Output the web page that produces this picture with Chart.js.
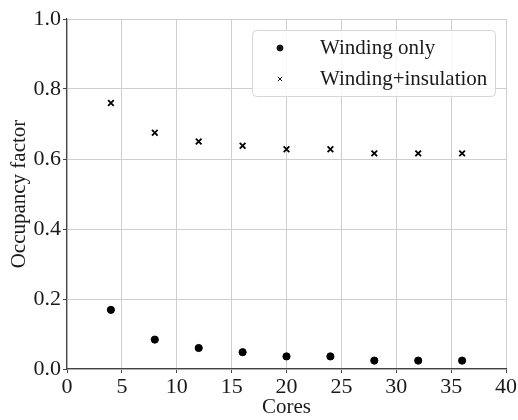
<!DOCTYPE html>
<html lang="en">
<head>
  <meta charset="UTF-8" />
  <title>Occupancy factor</title>
  <script src="https://cdn.jsdelivr.net/npm/chart.js"></script>
  <style>
    html, body { margin: 0; padding: 0; background: #fff; }
    #wrap { width: 518px; height: 420px; }
  </style>
</head>
<body>
  <div id="wrap"><canvas id="occChart" width="518" height="420"></canvas></div>

<script>
  const cores = [4, 8, 12, 16, 20, 24, 28, 32, 36];
  const windingOnly = [0.169, 0.084, 0.060, 0.048, 0.036, 0.036, 0.024, 0.024, 0.024];
  const windingInsulation = [0.760, 0.675, 0.650, 0.638, 0.628, 0.628, 0.616, 0.616, 0.616];
  const seriesNames = ['Winding only', 'Winding+insulation'];

  const serif = '"Liberation Serif", "DejaVu Serif", serif';

  // legend drawn inside the plot, top right
  const innerLegend = {
    id: 'innerLegend',
    afterDraw(chart) {
      const ctx = chart.ctx;
      const area = chart.chartArea;
      const x0 = area.right - 254, y0 = area.top + 11, w = 243, h = 66;
      ctx.save();
      ctx.fillStyle = 'rgba(255,255,255,0.85)';
      ctx.strokeStyle = '#d6d6d6';
      ctx.lineWidth = 1;
      ctx.beginPath();
      ctx.roundRect(x0 + 0.5, y0 + 0.5, w, h, 4);
      ctx.fill();
      ctx.stroke();
      ctx.font = '21px ' + serif;
      ctx.textBaseline = 'middle';
      chart.data.datasets.forEach((ds, i) => {
        const cy = y0 + 18 + i * 31;
        ctx.fillStyle = '#111';
        ctx.strokeStyle = '#111';
        Chart.helpers.drawPoint(ctx, {
          pointStyle: ds.pointStyle,
          radius: 3,
          borderWidth: ds.borderWidth
        }, x0 + 28, cy);
        ctx.fillStyle = '#1a1a1a';
        ctx.fillText(ds.label, x0 + 68, cy);
      });
      ctx.restore();
    }
  };

  const ctx = document.getElementById('occChart').getContext('2d');
  new Chart(ctx, {
    type: 'scatter',
    data: {
      datasets: [
        {
          label: seriesNames[0],
          data: cores.map((c, i) => ({ x: c, y: windingOnly[i] })),
          pointStyle: 'circle',
          pointRadius: 3.6,
          borderWidth: 1,
          backgroundColor: '#000',
          borderColor: '#000'
        },
        {
          label: seriesNames[1],
          data: cores.map((c, i) => ({ x: c, y: windingInsulation[i] })),
          pointStyle: 'crossRot',
          pointRadius: 4,
          borderWidth: 1.8,
          backgroundColor: '#000',
          borderColor: '#000'
        }
      ]
    },
    options: {
      responsive: false,
      animation: false,
      layout: { padding: { top: 19, right: 11, left: 7, bottom: 0 } },
      plugins: {
        legend: { display: false },
        tooltip: { enabled: false }
      },
      scales: {
        x: {
          type: 'linear',
          min: 0, max: 40,
          ticks: { stepSize: 5, color: '#1a1a1a', font: { family: serif, size: 22 }, padding: 1 },
          grid: { color: '#cfcfcf', tickLength: 4, tickColor: '#444' },
          border: { color: '#444', width: 1.2 },
          title: { display: true, text: 'Cores', color: '#1a1a1a', font: { family: serif, size: 21 }, padding: { top: 0, bottom: 0 } },
          afterFit(scale) { scale.height = 51; }
        },
        y: {
          min: 0, max: 1,
          ticks: { stepSize: 0.2, color: '#1a1a1a', font: { family: serif, size: 22 }, padding: 2,
                   callback: v => v.toFixed(1) },
          grid: { color: '#cfcfcf', tickLength: 4, tickColor: '#444' },
          border: { color: '#444', width: 1.2 },
          title: { display: true, text: 'Occupancy factor', color: '#1a1a1a', font: { family: serif, size: 21 }, padding: { top: 0, bottom: 2 } },
          afterFit(scale) { scale.width = 60; }
        }
      }
    },
    plugins: [innerLegend]
  });
</script>
</body>
</html>
